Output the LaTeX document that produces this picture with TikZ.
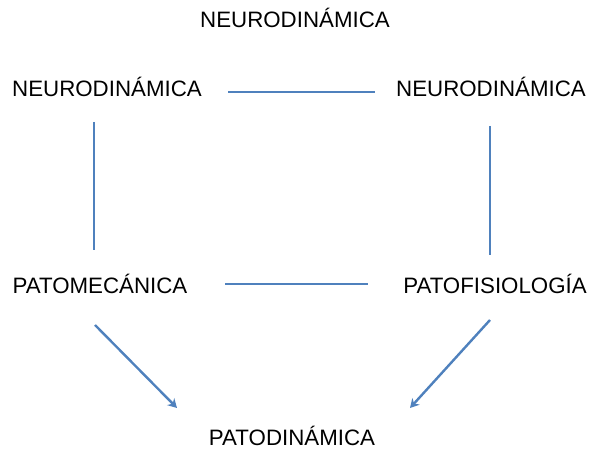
\documentclass[tikz,border=0pt]{standalone}
\usepackage{fontspec}
\setmainfont{Liberation Sans}
\usetikzlibrary{arrows.meta}
\definecolor{linkblue}{RGB}{79,129,189}
\tikzset{
    %Define style for labels
    term/.style={
           inner sep=0pt,
           anchor=base,
           font=\fontsize{22.3}{26}\selectfont,
           text=black},
    % Define line styles
    link/.style={
           draw=linkblue,
           line width=2.4pt},
    pil/.style={
           link,
           -{Stealth[length=9pt,width=10pt]}}
}
\begin{document}
\begin{tikzpicture}[x=1pt,y=-1pt]
\useasboundingbox (0,0) rectangle (590,452);
 %labels
\path (295,28) node[term](top){NEURODINÁMICA};
\path (107,97) node[term](neuroL){NEURODINÁMICA};
\path (491,97) node[term](neuroR){NEURODINÁMICA};
\path (100,293) node[term](mecha){PATOMECÁNICA};
\path (495,293) node[term](fisio){PATOFISIOLOGÍA};
\path (292,445) node[term](dyn){PATODINÁMICA};
 %line ends
\coordinate (a1) at (228,92);
\coordinate (a2) at (375,92);
\coordinate (b1) at (94,122);
\coordinate (b2) at (94,250);
\coordinate (c1) at (490,126);
\coordinate (c2) at (490,255);
\coordinate (d1) at (225,284);
\coordinate (d2) at (368,284);
\coordinate (e1) at (95,325);
\coordinate (e2) at (177,408);
\coordinate (f1) at (490,320);
\coordinate (f2) at (410,408);
 %connectors
\draw[link] (a1) -- (a2);
\draw[link] (b1) -- (b2);
\draw[link] (c1) -- (c2);
\draw[link] (d1) -- (d2);
\draw[pil] (e1) -- (e2);
\draw[pil] (f1) -- (f2);
\end{tikzpicture}
\end{document}
